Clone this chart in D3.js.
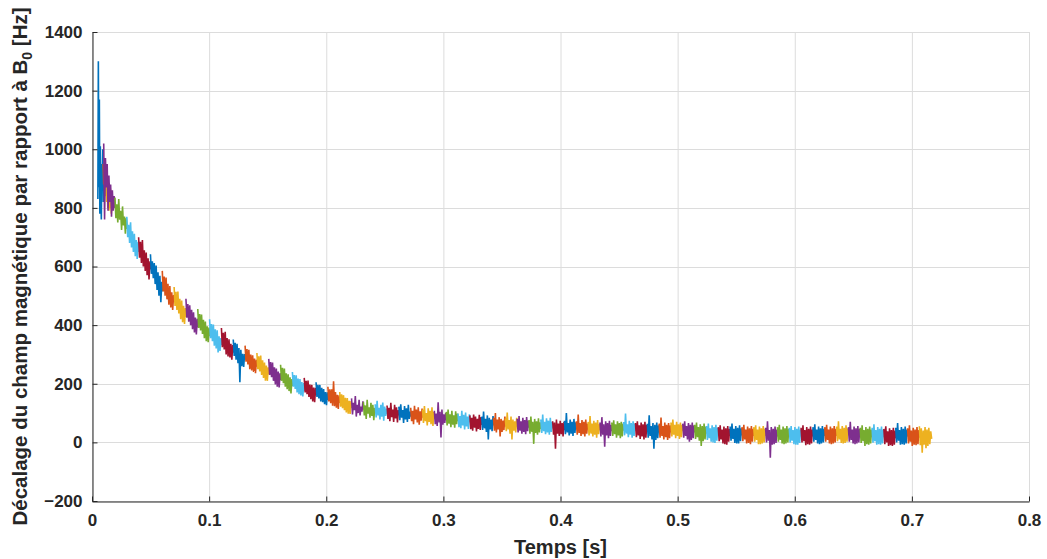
<!DOCTYPE html>
<html><head><meta charset="utf-8">
<script src="https://cdn.jsdelivr.net/npm/d3@7"></script>
<style>body{margin:0;background:#fff}svg{display:block}</style>
</head><body>
<svg id="chart" width="1047" height="559"></svg>
<script>
// ---- data ----
const xTicks = [0, 0.1, 0.2, 0.3, 0.4, 0.5, 0.6, 0.7, 0.8];
const yTicks = [-200, 0, 200, 400, 600, 800, 1000, 1200, 1400];
const colorOrder = ["#0072BD", "#D95319", "#EDB120", "#7E2F8E", "#77AC30", "#4DBEEE", "#A2142F"];
// start time / duration (s) of the first four acquisitions, then a regular train
const earlyStarts = [0.0050, 0.0095, 0.0110, 0.0100];
const earlyDurations = [0.0055, 0.0065, 0.0065, 0.0096];
const trainStart = 0.0196, trainPeriod = 0.0101, trainDuration = 0.0105;
// frequency offset samples (Hz) for each acquisition
const segments = [
[830,1300,870,1170,780,1010,840,760,950,870,1000,820,900,850],
[950,880,920,850,935,870,905,840,900,860,885,835,870,850],
[900,840,885,820,870,800,860,790,845,800,830,780,820,800],
[1020,760,970,870,950,790,910,820,880,770,860,790,840,800],
[835,765,812,750,830,760,790,725,805,740,770,712,766,728],
[770,700,742,680,751,665,720,650,712,635,690,626,684,650],
[700,630,684,612,690,600,655,585,648,570,628,556,618,590],
[642,575,618,560,612,540,603,520,580,500,568,478,548,515],
[585,515,566,500,562,488,541,470,533,460,512,452,503,478],
[530,465,514,452,515,440,490,420,484,410,466,404,458,428],
[490,425,472,412,468,400,452,386,444,375,426,368,422,392],
[455,390,438,382,436,370,418,355,412,345,396,342,392,362],
[420,355,404,345,402,330,386,320,382,307,362,312,356,332],
[390,325,374,317,377,300,356,293,352,290,336,282,332,306],
[351,295,340,282,336,270,322,205,316,260,302,257,301,282],
[330,275,318,266,316,250,300,245,297,240,286,236,282,258],
[305,250,294,242,296,230,280,220,272,210,262,210,256,232],
[285,230,274,222,272,210,256,198,252,190,242,187,236,212],
[265,210,254,202,252,190,236,181,232,175,222,167,216,192],
[240,190,230,182,229,170,218,164,216,160,206,157,202,176],
[220,170,210,164,211,155,197,147,196,140,187,137,186,160],
[205,155,196,150,196,140,186,137,182,130,172,127,171,145],
[190,140,181,134,181,125,208,123,172,118,162,114,161,135],
[172,122,164,117,161,110,152,102,151,98,142,97,141,118],
[150,95,135,110,158,88,128,100,145,92,122,105,140,112],
[138,92,126,80,145,98,120,84,135,90,128,76,118,100],
[130,85,142,92,118,78,128,88,136,74,122,90,115,96],
[126,80,118,72,135,86,112,70,128,82,120,68,110,92],
[122,76,130,84,110,66,124,78,116,70,128,80,105,88],
[118,72,108,62,125,78,112,68,120,60,106,74,115,84],
[112,66,124,72,100,58,116,70,108,62,120,56,104,80],
[108,62,98,56,137,68,104,17,112,60,96,66,100,76],
[104,58,112,64,96,52,108,60,92,50,106,62,98,72],
[98,52,90,48,108,58,94,44,102,54,88,46,96,68],
[92,45,84,40,95,50,88,37,80,46,94,42,86,60],
[88,42,105,48,80,36,92,10,84,44,78,38,90,58],
[84,40,100,34,78,44,86,20,80,36,74,42,88,54],
[82,38,102,44,76,30,88,10,78,40,72,34,84,52],
[80,34,90,40,72,30,84,36,76,28,86,38,74,50],
[76,30,88,36,70,-5,80,32,72,26,82,34,68,46],
[78,32,95,38,70,28,82,34,74,26,84,36,70,48],
[72,26,68,-22,78,30,64,22,74,28,66,20,70,42],
[74,28,100,34,66,24,78,30,70,22,80,32,68,44],
[72,26,95,32,66,22,76,28,70,20,78,30,64,44],
[70,24,90,30,64,20,74,26,68,16,76,28,62,42],
[68,20,86,26,62,-15,72,24,66,14,74,22,60,38],
[68,22,75,28,62,16,72,24,66,14,70,20,64,40],
[70,24,98,30,62,18,74,26,66,16,72,22,64,40],
[66,18,72,24,58,12,68,20,62,10,70,16,60,36],
[64,16,92,22,56,10,66,-22,60,8,68,14,58,34],
[64,16,85,22,56,10,68,18,60,8,66,14,58,34],
[68,20,78,26,60,14,70,22,62,12,68,18,60,38],
[64,16,72,22,56,10,66,2,60,8,68,14,58,34],
[60,12,68,18,52,6,62,-12,56,4,64,10,54,30],
[56,8,64,14,48,2,58,0,52,-2,60,6,50,26],
[52,4,58,10,44,-4,54,-6,48,-8,56,2,46,22],
[54,6,64,12,46,-2,56,-4,50,-4,58,4,48,24],
[52,4,60,10,44,-4,54,-2,48,-6,56,2,46,22],
[52,2,58,8,44,-6,54,-6,48,-4,56,0,46,22],
[50,0,72,6,42,-52,52,-8,46,-6,54,-2,44,20],
[52,2,60,8,44,-4,54,-6,48,-4,56,0,46,22],
[50,0,56,6,42,-6,52,-8,46,-8,54,-2,44,20],
[50,0,58,4,42,-10,52,-6,46,-8,54,-4,44,20],
[52,2,62,8,44,-4,54,-6,48,-4,56,0,46,22],
[52,2,60,8,44,-4,54,-6,48,-4,56,0,46,22],
[54,4,72,10,46,-2,56,-4,50,-2,58,2,48,24],
[52,2,70,8,44,-4,54,-6,48,-4,56,0,46,22],
[50,-2,58,4,42,-12,52,-6,46,-8,54,-4,44,18],
[50,-1,62,4,42,-8,52,-6,46,-8,54,-4,44,18],
[46,-6,55,0,38,-12,48,-10,42,-12,50,-8,40,14],
[50,0,66,6,42,-8,52,-6,46,-8,54,-4,44,20],
[48,-4,58,2,40,-12,50,-8,44,-10,52,-6,42,16],
[55,-10,48,-35,40,-8,52,-20,44,-12,50,-6,38,12]
];
const xLabel = "Temps [s]";
const yLabelMain = "Décalage du champ magnétique par rapport à B";
const yLabelSub = "0";
const yLabelUnit = " [Hz]";

// ---- drawing ----
const W = 1047, H = 559;
const m = {left: 92, right: 18, top: 32, bottom: 58};
const svg = d3.select("#chart");
const x = d3.scaleLinear().domain([0, 0.8]).range([m.left, W - m.right]);
const y = d3.scaleLinear().domain([-200, 1400]).range([H - m.bottom, m.top]);
const textColor = "#262626";
const font = "'Liberation Sans', Arial, Helvetica, sans-serif";

// grid
const grid = svg.append("g");
grid.selectAll("line.vx").data(xTicks).join("line")
  .attr("x1", d => x(d) + 0.5).attr("x2", d => x(d) + 0.5)
  .attr("y1", y(-200)).attr("y2", y(1400))
  .attr("stroke", "#dcdcdc").attr("stroke-width", 1);
grid.selectAll("line.hy").data(yTicks).join("line")
  .attr("y1", d => Math.round(y(d)) + 0.5).attr("y2", d => Math.round(y(d)) + 0.5)
  .attr("x1", x(0)).attr("x2", x(0.8))
  .attr("stroke", "#dcdcdc").attr("stroke-width", 1);

// data segments
const line = d3.line().x(d => x(d[0])).y(d => y(d[1]));
segments.forEach((vals, k) => {
  const start = k < earlyStarts.length ? earlyStarts[k] : trainStart + (k - earlyStarts.length) * trainPeriod;
  const dur = k < earlyStarts.length ? earlyDurations[k] : trainDuration;
  const pts = vals.map((v, i) => [start + dur * i / (vals.length - 1), v]);
  svg.append("path").datum(pts)
    .attr("d", line)
    .attr("fill", "none")
    .attr("stroke", colorOrder[k % colorOrder.length])
    .attr("stroke-width", 1.6)
    .attr("stroke-linejoin", "miter");
});

// axes
const xAxis = d3.axisBottom(x).tickValues(xTicks).tickSizeInner(-5).tickSizeOuter(0).tickPadding(12)
  .tickFormat(d => d === 0 ? "0" : d3.format(".1f")(d));
const yAxis = d3.axisLeft(y).tickValues(yTicks).tickSizeInner(-5).tickSizeOuter(0).tickPadding(10)
  .tickFormat(d3.format("d"));
const gx = svg.append("g").attr("transform", `translate(0,${Math.round(y(-200)) + 0.5})`).call(xAxis);
const gy = svg.append("g").attr("transform", `translate(${x(0) + 0.5},0)`).call(yAxis);
[gx, gy].forEach(g => {
  g.select(".domain").attr("stroke", textColor).attr("stroke-width", 1);
  g.selectAll(".tick line").attr("stroke", textColor);
  g.selectAll(".tick text").attr("fill", textColor)
    .style("font-family", font).style("font-size", "17px").style("font-weight", "bold");
});

// labels
svg.append("text").attr("x", (x(0) + x(0.8)) / 2).attr("y", 554)
  .attr("text-anchor", "middle").attr("fill", textColor)
  .style("font-family", font).style("font-size", "20px").style("font-weight", "bold")
  .text(xLabel);
const yl = svg.append("text")
  .attr("transform", `translate(27,${(y(-200) + y(1400)) / 2}) rotate(-90)`)
  .attr("text-anchor", "middle").attr("fill", textColor)
  .style("font-family", font).style("font-size", "20.5px").style("font-weight", "bold");
yl.append("tspan").text(yLabelMain);
yl.append("tspan").attr("dy", 5).style("font-size", "14px").text(yLabelSub);
yl.append("tspan").attr("dy", -5).text(yLabelUnit);
</script>
</body></html>
